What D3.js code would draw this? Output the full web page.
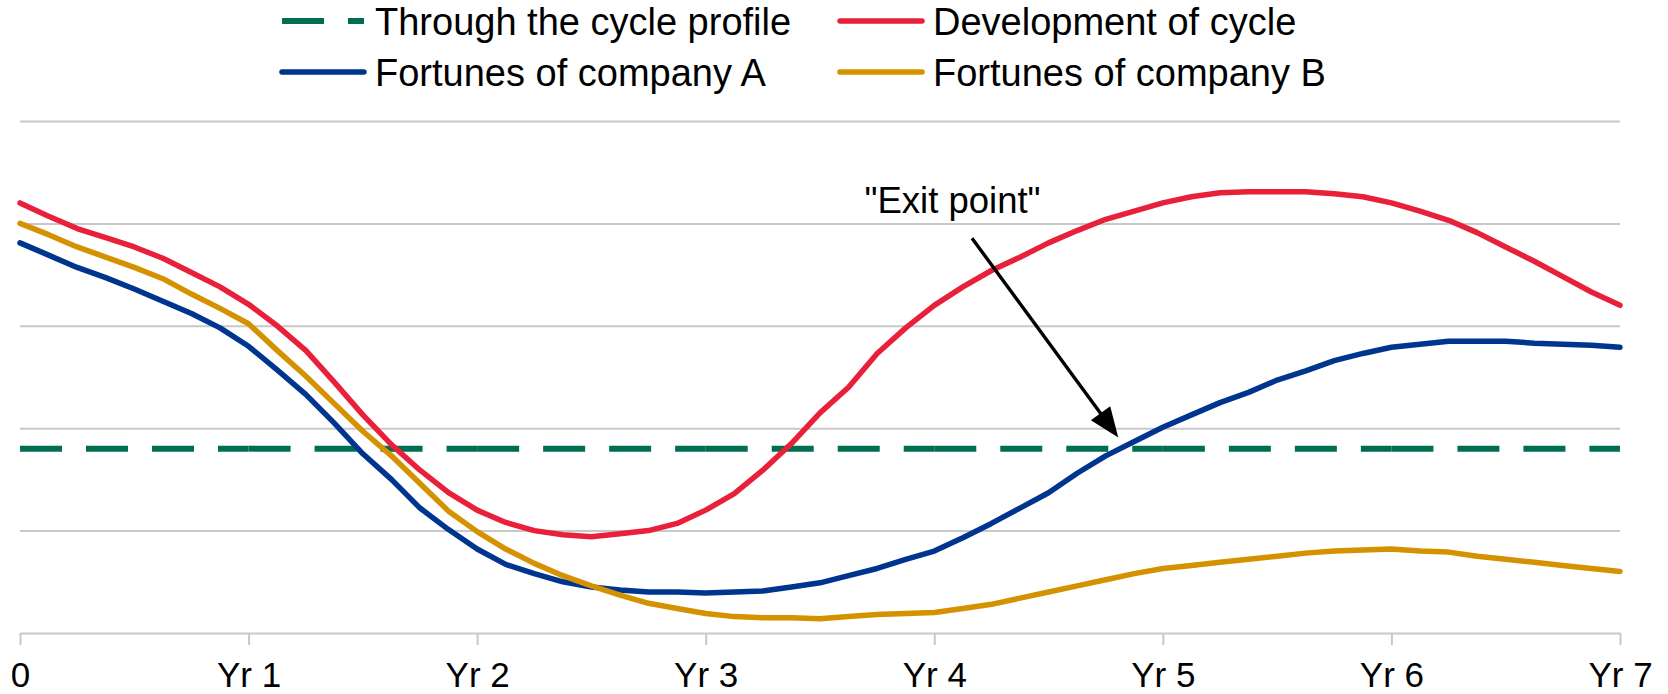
<!DOCTYPE html>
<html>

<head>
    <meta charset="utf-8">
    <style>
        body {
            margin: 0;
            background: #fff;
        }

        svg {
            display: block;
            font-family: 'Liberation Sans', Arial, sans-serif;
        }

        .grid line {
            stroke: #c8c8c8;
            stroke-width: 2px;
        }

        .grid .domain {
            display: none;
        }

        .x .domain,
        .x .tick line {
            stroke: #c8c8c8;
            stroke-width: 2px;
        }

        .x .tick text {
            font-size: 35px;
            fill: #000;
        }

        .legend text {
            font-size: 38px;
            fill: #000;
        }

        .note {
            font-size: 36.5px;
            fill: #000;
        }
    </style>
</head>

<body>
    <svg width="1668" height="694"></svg>

    <script src="https://d3js.org/d3.v7.min.js"></script>
    <script>
        // time steps in years (eighths of a year), shared by the three curves
        let steps = d3.range(57).map(i => i / 8)

        let tickYears = [0, 1, 2, 3, 4, 5, 6, 7]
        let tickLabels = ["0", "Yr 1", "Yr 2", "Yr 3", "Yr 4", "Yr 5", "Yr 6", "Yr 7"]
        let gridValues = [1, 2, 3, 4, 5]

        // flat "through the cycle" profile, one point per year
        let throughCycle = [1.8, 1.8, 1.8, 1.8, 1.8, 1.8, 1.8, 1.8]

        let development = [4.20, 4.07, 3.95, 3.86, 3.77, 3.66, 3.52, 3.38, 3.21, 3.00, 2.76, 2.45, 2.13, 1.84, 1.59,
            1.37, 1.20, 1.08, 1.00, 0.96, 0.94, 0.97, 1.00, 1.07, 1.20, 1.36, 1.59, 1.85, 2.15, 2.40, 2.73, 2.98,
            3.20, 3.38, 3.54, 3.67, 3.81, 3.93, 4.04, 4.12, 4.20, 4.26, 4.30, 4.31, 4.31, 4.31, 4.29, 4.26, 4.20,
            4.12, 4.03, 3.91, 3.77, 3.63, 3.48, 3.33, 3.20]

        let companyA = [3.81, 3.69, 3.57, 3.47, 3.36, 3.24, 3.12, 2.98, 2.80, 2.57, 2.33, 2.05, 1.75, 1.50, 1.22,
            1.01, 0.82, 0.67, 0.58, 0.50, 0.45, 0.42, 0.40, 0.40, 0.39, 0.40, 0.41, 0.45, 0.49, 0.56, 0.63, 0.72,
            0.80, 0.93, 1.07, 1.22, 1.37, 1.56, 1.73, 1.87, 2.01, 2.13, 2.25, 2.35, 2.47, 2.56, 2.66, 2.73, 2.79,
            2.82, 2.85, 2.85, 2.85, 2.83, 2.82, 2.81, 2.79]

        let companyB = [4.00, 3.89, 3.77, 3.67, 3.57, 3.46, 3.31, 3.17, 3.02, 2.76, 2.51, 2.24, 1.97, 1.73, 1.46,
            1.19, 0.99, 0.82, 0.68, 0.56, 0.46, 0.37, 0.29, 0.24, 0.19, 0.16, 0.15, 0.15, 0.14, 0.16, 0.18, 0.19,
            0.20, 0.24, 0.28, 0.34, 0.40, 0.46, 0.52, 0.58, 0.63, 0.66, 0.69, 0.72, 0.75, 0.78, 0.80, 0.81, 0.82,
            0.80, 0.79, 0.75, 0.72, 0.69, 0.66, 0.63, 0.60]

        let seriesNames = ["Through the cycle profile", "Development of cycle", "Fortunes of company A", "Fortunes of company B"]
        let seriesColors = ["#006e52", "#e8203a", "#00358f", "#d49100"]

        // "Exit point" callout, in chart units (years, value)
        let noteText = "\"Exit point\""
        let notePos = [4.08, 4.10]
        let arrowFrom = [4.165, 3.855]
        let arrowTo = [4.805, 1.91]

        let svg = d3.select("svg")

        let x = d3.scaleLinear()
            .domain([0, 7])
            .range([20, 1620])

        let y = d3.scaleLinear()
            .domain([0, 5])
            .range([633, 121])

        // horizontal gridlines
        svg.append("g")
            .attr("class", "grid")
            .attr("transform", `translate(${x(0)},0)`)
            .call(d3.axisLeft(y).tickValues(gridValues).tickSize(-(x(7) - x(0))).tickFormat(""))

        // x axis
        svg.append("g")
            .attr("class", "x axis")
            .attr("transform", `translate(0,${y(0)})`)
            .call(d3.axisBottom(x)
                .tickValues(tickYears)
                .tickFormat((d, i) => tickLabels[i])
                .tickSize(12)
                .tickSizeOuter(0)
                .tickPadding(17))

        let line = d3.line()
            .x(d => x(d[0]))
            .y(d => y(d[1]))

        // dashed profile: each yearly segment is stroked on its own, so the dash restarts every year
        let profileSegs = d3.pairs(tickYears.map((t, i) => [t, throughCycle[i]]))
        svg.append("g")
            .selectAll("path")
            .data(profileSegs)
            .join("path")
            .attr("d", line)
            .attr("fill", "none")
            .attr("stroke", seriesColors[0])
            .attr("stroke-width", 6)
            .attr("stroke-dasharray", "42 24")

        let curves = [development, companyA, companyB]
        svg.append("g")
            .selectAll("path")
            .data(curves)
            .join("path")
            .attr("d", vals => line(vals.map((v, i) => [steps[i], v])))
            .attr("fill", "none")
            .attr("stroke", (d, i) => seriesColors[i + 1])
            .attr("stroke-width", 5.5)
            .attr("stroke-linejoin", "round")
            .attr("stroke-linecap", "round")

        // callout
        svg.append("text")
            .attr("class", "note")
            .attr("x", x(notePos[0]))
            .attr("y", y(notePos[1]))
            .attr("text-anchor", "middle")
            .text(noteText)

        let x1 = x(arrowFrom[0]), y1 = y(arrowFrom[1])
        let x2 = x(arrowTo[0]), y2 = y(arrowTo[1])
        let len = Math.hypot(x2 - x1, y2 - y1)
        let ux = (x2 - x1) / len, uy = (y2 - y1) / len
        let headLen = 30, headHalf = 12

        svg.append("line")
            .attr("x1", x1).attr("y1", y1)
            .attr("x2", x2 - ux * (headLen - 4)).attr("y2", y2 - uy * (headLen - 4))
            .attr("stroke", "#000")
            .attr("stroke-width", 3.4)

        let bx = x2 - ux * headLen, by = y2 - uy * headLen
        svg.append("path")
            .attr("d", `M${x2},${y2}L${bx - uy * headHalf},${by + ux * headHalf}L${bx + uy * headHalf},${by - ux * headHalf}Z`)
            .attr("fill", "#000")

        // legend: two columns, two rows
        let legendCols = [282, 840]
        let legendRows = [21, 72]
        let legendOrder = [[0, 0, 0], [1, 1, 0], [2, 0, 1], [3, 1, 1]]

        let legend = svg.append("g").attr("class", "legend")
        legendOrder.forEach(([s, c, r]) => {
            let lx = legendCols[c], ly = legendRows[r]
            let sym = legend.append("line")
                .attr("x1", lx).attr("x2", lx + 82)
                .attr("y1", ly).attr("y2", ly)
                .attr("stroke", seriesColors[s])
            if (s == 0) {
                sym.attr("stroke-width", 6).attr("stroke-dasharray", "42 24")
            } else {
                sym.attr("stroke-width", 5.5).attr("stroke-linecap", "round")
            }
            legend.append("text")
                .attr("x", lx + 93)
                .attr("y", ly + 14)
                .text(seriesNames[s])
        })
    </script>
</body>

</html>
